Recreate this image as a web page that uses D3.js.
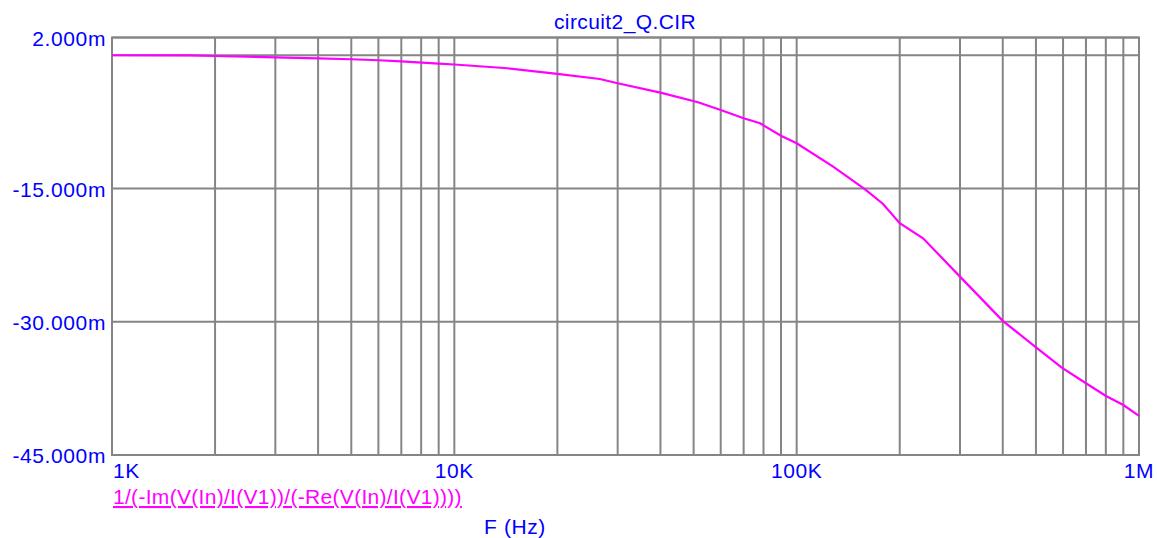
<!DOCTYPE html>
<html>
<head>
<meta charset="utf-8">
<script src="https://cdn.jsdelivr.net/npm/d3@7"></script>
<style>
  body { margin: 0; background: #fff; }
  svg text { font-family: "Liberation Sans", Arial, sans-serif; }
</style>
</head>
<body>
<svg id="chart" width="1157" height="538"></svg>
<script>
// frequency (Hz) and 1/Q value (milli units)
var freq = [1000, 1690, 2000, 3000, 4000, 5000, 6000, 7000, 9000, 10000, 14300, 20000,
  26600, 30000, 40000, 51500, 60000, 70000, 78200, 90000, 100000, 127800, 158500,
  178800, 200000, 234000, 300000, 400000, 497000, 595000, 700000, 801000, 900000, 1000000];
var value = [0.0, -0.02, -0.08, -0.23, -0.34, -0.45, -0.56, -0.68, -0.95, -1.04, -1.46, -2.1,
  -2.67, -3.15, -4.21, -5.29, -6.16, -7.09, -7.66, -9.05, -9.91, -12.54, -15.09,
  -16.74, -18.91, -20.6, -24.92, -29.9, -32.8, -35.17, -36.92, -38.35, -39.37, -40.6];

var yGrid = [2, 0, -15, -30, -45];
var yLabels = [2, -15, -30, -45];
var xLabels = [1e3, 1e4, 1e5, 1e6];
var xLabelText = ["1K", "10K", "100K", "1M"];

var title = "circuit2_Q.CIR";
var seriesName = "1/(-Im(V(In)/I(V1))/(-Re(V(In)/I(V1))))";
var xTitle = "F (Hz)";

renderChart();

function renderChart(){
  var left = 112, right = 1139, top = 37.5, bottom = 455;
  var blue = "#0000ff", grid = "#858585", pink = "#ff00ff";

  var svg = d3.select("#chart");

  var x = d3.scaleLog().domain([1e3, 1e6]).range([left, right]);
  var y = d3.scaleLinear().domain([2, -45]).range([top, bottom]);

  // vertical grid, one line per 1..9 of each decade
  svg.append("g").selectAll("line")
     .data(x.ticks())
     .enter().append("line")
     .attr("x1", d => x(d)).attr("x2", d => x(d))
     .attr("y1", top).attr("y2", bottom)
     .attr("stroke", grid).attr("stroke-width", 2);

  svg.append("g").selectAll("line")
     .data(yGrid)
     .enter().append("line")
     .attr("x1", left).attr("x2", right)
     .attr("y1", d => y(d)).attr("y2", d => y(d))
     .attr("stroke", grid).attr("stroke-width", 2);

  svg.append("rect")
     .attr("x", left).attr("y", top)
     .attr("width", right - left).attr("height", bottom - top)
     .attr("fill", "none").attr("stroke", grid).attr("stroke-width", 2);

  var line = d3.line()
               .x((d, i) => x(freq[i]))
               .y(d => y(d));

  svg.append("path")
     .datum(value)
     .attr("d", line)
     .attr("fill", "none")
     .attr("stroke", pink)
     .attr("stroke-width", 2.2);

  // y labels
  svg.append("g").selectAll("text")
     .data(yLabels)
     .enter().append("text")
     .attr("x", 106)
     .attr("y", d => y(d) + 8)
     .attr("text-anchor", "end")
     .attr("fill", blue)
     .style("font-size", "21px")
     .style("letter-spacing", "0.6px")
     .text(d => d.toFixed(3) + "m");

  // x labels
  svg.append("g").selectAll("text")
     .data(xLabels)
     .enter().append("text")
     .attr("x", (d, i) => i == 0 ? x(d) + 1 : x(d))
     .attr("y", 478)
     .attr("text-anchor", (d, i) => i == 0 ? "start" : "middle")
     .attr("fill", blue)
     .style("font-size", "21px")
     .style("letter-spacing", "0.6px")
     .text((d, i) => xLabelText[i]);

  svg.append("text")
     .attr("x", 625).attr("y", 29)
     .attr("text-anchor", "middle")
     .attr("fill", blue)
     .style("font-size", "21px")
     .style("letter-spacing", "0.4px")
     .text(title);

  svg.append("text")
     .attr("x", 113).attr("y", 504)
     .attr("fill", pink)
     .style("font-size", "21px")
     .style("letter-spacing", "0.3px")
     .style("text-decoration", "underline")
     .text(seriesName);

  svg.append("text")
     .attr("x", 515).attr("y", 534)
     .attr("text-anchor", "middle")
     .attr("fill", blue)
     .style("font-size", "21px")
     .style("letter-spacing", "0.6px")
     .text(xTitle);
}
</script>
</body>
</html>
